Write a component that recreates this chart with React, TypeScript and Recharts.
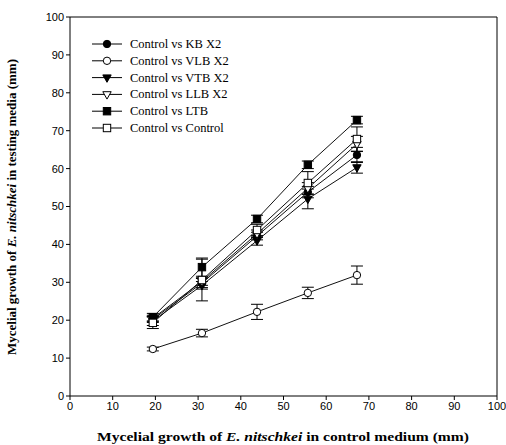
import { LineChart, Line, XAxis, YAxis, ErrorBar, ReferenceLine, Legend } from 'recharts';

// growth in control medium (x positions shared by every series)
const controlGrowth = [19.4, 30.9, 43.8, 55.7, 67.2];

const kbx2 = [20.2, 29.8, 42.2, 53.8, 63.6];
const kbx2Err = [0.8, 1.2, 1.0, 1.5, 2.0];
const vlbx2 = [12.4, 16.6, 22.2, 27.2, 31.9];
const vlbx2Err = [0.5, 1.0, 2.0, 1.5, 2.4];
const vtbx2 = [19.8, 29.2, 41.0, 52.0, 60.3];
const vtbx2Err = [1.2, 1.0, 1.2, 2.6, 1.5];
const llbx2 = [20.5, 30.2, 42.8, 54.8, 66.5];
const llbx2Err = [0.8, 1.0, 1.0, 1.5, 2.0];
const ltb = [20.8, 34.0, 46.7, 61.0, 72.8];
const ltbErr = [1.0, 2.4, 1.0, 1.0, 1.0];
const ctrl = [19.3, 30.6, 43.8, 56.2, 67.8];
const ctrlErr = [1.5, 5.5, 1.5, 3.0, 3.2];

const xTicks = [0, 10, 20, 30, 40, 50, 60, 70, 80, 90, 100];
const yTicks = [0, 10, 20, 30, 40, 50, 60, 70, 80, 90, 100];

type Shape = 'circle' | 'openCircle' | 'triangle' | 'openTriangle' | 'square' | 'openSquare';

const series: { key: string; name: string; shape: Shape }[] = [
  { key: 'kbx2', name: 'Control vs KB X2', shape: 'circle' },
  { key: 'vlbx2', name: 'Control vs VLB X2', shape: 'openCircle' },
  { key: 'vtbx2', name: 'Control vs VTB X2', shape: 'triangle' },
  { key: 'llbx2', name: 'Control vs LLB X2', shape: 'openTriangle' },
  { key: 'ltb', name: 'Control vs LTB', shape: 'square' },
  { key: 'ctrl', name: 'Control vs Control', shape: 'openSquare' },
];

const data = controlGrowth.map((x, i) => ({
  x,
  kbx2: kbx2[i],
  kbx2Err: kbx2Err[i],
  vlbx2: vlbx2[i],
  vlbx2Err: vlbx2Err[i],
  vtbx2: vtbx2[i],
  vtbx2Err: vtbx2Err[i],
  llbx2: llbx2[i],
  llbx2Err: llbx2Err[i],
  ltb: ltb[i],
  ltbErr: ltbErr[i],
  ctrl: ctrl[i],
  ctrlErr: ctrlErr[i],
}));

function Marker({ cx, cy, shape }: { cx: number; cy: number; shape: Shape }) {
  const r = 3.7;
  const fill = shape === 'circle' || shape === 'triangle' || shape === 'square' ? '#000' : '#fff';
  if (shape === 'circle' || shape === 'openCircle') {
    return <circle cx={cx} cy={cy} r={r} fill={fill} stroke="#000" strokeWidth={1} />;
  }
  if (shape === 'square' || shape === 'openSquare') {
    return <rect x={cx - r} y={cy - r} width={2 * r} height={2 * r} fill={fill} stroke="#000" strokeWidth={1} />;
  }
  return (
    <polygon
      points={`${cx - r - 0.5},${cy - r + 1} ${cx + r + 0.5},${cy - r + 1} ${cx},${cy + r + 1}`}
      fill={fill}
      stroke="#000"
      strokeWidth={1}
    />
  );
}

const serif = '"Liberation Serif", "Times New Roman", serif';
const sans = '"Liberation Sans", Arial, sans-serif';

const renderLegend = () => (
  <svg width={200} height={110}>
    {series.map((s, i) => {
      const y = 8 + i * 16.8;
      return (
        <g key={s.key}>
          <line x1={2} x2={32} y1={y} y2={y} stroke="#000" strokeWidth={1} />
          <Marker cx={17} cy={y} shape={s.shape} />
          <text x={40} y={y + 4} fontFamily={serif} fontSize={12.5} fill="#000">
            {s.name}
          </text>
        </g>
      );
    })}
  </svg>
);

const XLabel = () => (
  <text
    x={283}
    y={441}
    textAnchor="middle"
    fontFamily={serif}
    fontSize={13}
    fontWeight="bold"
    fill="#000"
    textLength={372}
    lengthAdjust="spacingAndGlyphs"
  >
    Mycelial growth of <tspan fontStyle="italic">E. nitschkei</tspan> in control medium (mm)
  </text>
);

const YLabel = () => (
  <text
    x={16}
    y={207}
    transform="rotate(-90 16 207)"
    textAnchor="middle"
    fontFamily={serif}
    fontSize={12}
    fontWeight="bold"
    fill="#000"
    textLength={296}
    lengthAdjust="spacingAndGlyphs"
  >
    Mycelial growth of <tspan fontStyle="italic">E. nitschkei</tspan> in testing media (mm)
  </text>
);

export default function App() {
  return (
    <div style={{ position: 'absolute', left: 0, top: 0, width: 506, height: 445, background: '#fff' }}>
      <LineChart width={506} height={445} data={data} margin={{ top: 17, right: 9, left: 0, bottom: 0 }}>
        <XAxis
          dataKey="x"
          type="number"
          domain={[0, 100]}
          ticks={xTicks}
          height={49}
          stroke="#000"
          tickSize={4}
          tick={{ fill: '#000', fontSize: 11, fontFamily: sans }}
          label={<XLabel />}
        />
        <YAxis
          type="number"
          domain={[0, 100]}
          ticks={yTicks}
          width={70}
          stroke="#000"
          tickSize={4}
          tick={{ fill: '#000', fontSize: 11, fontFamily: sans }}
          label={<YLabel />}
        />
        <ReferenceLine y={100} stroke="#000" />
        <ReferenceLine x={100} stroke="#000" />
        <Legend
          layout="vertical"
          align="center"
          verticalAlign="middle"
          content={renderLegend}
          wrapperStyle={{ left: 90, top: 36, width: 200, height: 110 }}
        />
        {series.map((s) => (
          <Line
            key={s.key}
            dataKey={s.key}
            name={s.name}
            stroke="#111"
            strokeWidth={1}
            isAnimationActive={false}
            dot={(p: any) => <Marker key={`${s.key}-${p.index}`} cx={p.cx} cy={p.cy} shape={s.shape} />}
            activeDot={false}
          >
            <ErrorBar dataKey={`${s.key}Err`} width={6} stroke="#000" strokeWidth={1} direction="y" />
          </Line>
        ))}
      </LineChart>
    </div>
  );
}
